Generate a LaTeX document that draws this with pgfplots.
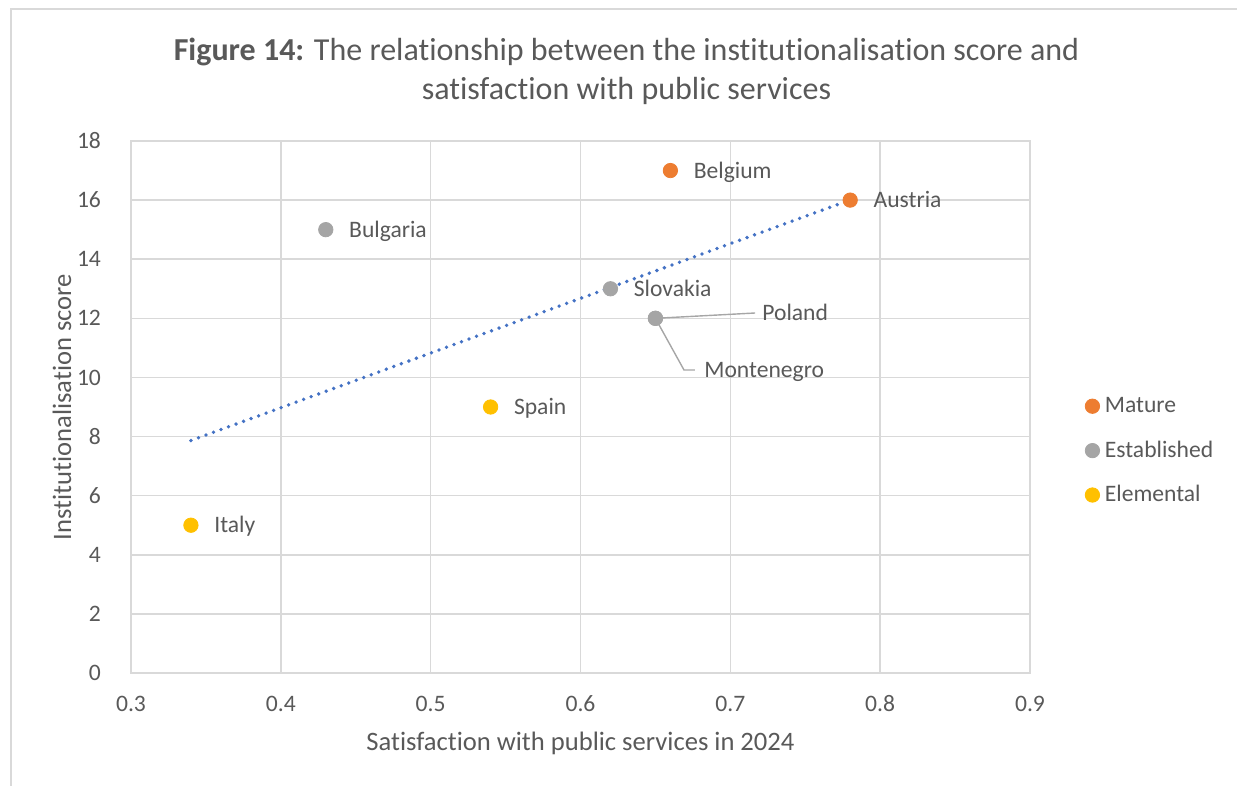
\documentclass[border=0pt]{standalone}
\usepackage{pgfplots}
\pgfplotsset{compat=1.18}
\usepackage{pgfplotstable}
\usepackage{fontspec}
\setmainfont{Carlito}[Ligatures=NoCommon]

\definecolor{txtgray}{HTML}{595959}
\definecolor{gridgray}{HTML}{D9D9D9}
\definecolor{leadgray}{HTML}{A6A6A6}
\definecolor{mature}{HTML}{ED7D31}
\definecolor{established}{HTML}{A5A5A5}
\definecolor{elemental}{HTML}{FFC000}
\definecolor{trend}{HTML}{4472C4}

% Satisfaction with public services (x) and institutionalisation score (y)
\pgfplotstableread{
x    y  label
0.66 17 Belgium
0.78 16 Austria
}\maturedata
\pgfplotstableread{
x    y  label
0.43 15 Bulgaria
0.62 13 Slovakia
}\establisheddata
\pgfplotstableread{
x    y
0.65 12
0.65 12
}\polmontdata
\pgfplotstableread{
x    y label
0.54 9 Spain
0.34 5 Italy
}\elementaldata

\begin{document}
\begin{tikzpicture}
\useasboundingbox (0,0) rectangle (618.5pt,393pt);
% chart area frame
\draw[gridgray, line width=0.8pt] (5.5pt,0) -- (5.5pt,388.5pt) -- (620pt,388.5pt);

% title
\node[anchor=base, font=\fontsize{16}{19.5}\selectfont, text=txtgray, inner sep=0pt]
  at (313.25pt,362.5pt) {\textbf{Figure 14:} The relationship between the institutionalisation score and};
\node[anchor=base, font=\fontsize{16}{19.5}\selectfont, text=txtgray, inner sep=0pt]
  at (313.25pt,343pt) {satisfaction with public services};

\begin{axis}[
  at={(65.5pt,56.5pt)}, anchor=south west,
  width=449.5pt, height=266pt, scale only axis,
  xmin=0.3, xmax=0.9, ymin=0, ymax=18,
  xtick={0.3,0.4,...,0.9}, ytick={0,2,...,18},
  xticklabels={0.3,0.4,0.5,0.6,0.7,0.8,0.9},
  major tick length=0pt,
  grid=major,
  grid style={gridgray, line width=0.8pt},
  axis line style={gridgray, line width=0.8pt},
  /pgf/number format/assume math mode=true,
  tick label style={font=\fontsize{11.8}{14}\selectfont, text=txtgray},
  xticklabel style={anchor=center, yshift=-15.5pt},
  yticklabel style={anchor=east, xshift=-11.5pt},
  xlabel={Satisfaction with public services in 2024},
  ylabel={Institutionalisation score},
  label style={font=\fontsize{13.3}{16}\selectfont, text=txtgray},
  xlabel style={at={(axis description cs:0.5,0)}, anchor=center, yshift=-35pt},
  ylabel style={at={(axis description cs:0,0.5)}, anchor=center, rotate=0, yshift=34.5pt},
  every axis plot/.append style={mark size=3.6pt},
  every node near coord/.append style={anchor=west, font=\fontsize{11.8}{14}\selectfont, text=txtgray,
      inner sep=0pt, xshift=11.5pt, text height=9.9pt, text depth=2.4pt},
  legend style={draw=none, fill=none, at={(axis description cs:1.061,0.418)}, anchor=west,
      inner sep=0pt, font=\fontsize{11.8}{14}\selectfont, text=txtgray,
      row sep=10.9pt,
      nodes={inner sep=0pt, text height=8.9pt, text depth=2.4pt},
      /tikz/every odd column/.append style={column sep=2.6pt}},
  legend cell align=left,
  legend image code/.code={\draw[#1] plot coordinates {(3.6pt,0pt)};},
]
% leader lines for Poland and Montenegro
\draw[leadgray, line width=0.7pt] (axis cs:0.65,12) -- (axis cs:0.7165,12.18);
\draw[leadgray, line width=0.7pt] (axis cs:0.65,12) -- (axis cs:0.6691,10.25) -- (axis cs:0.6764,10.25);

\addplot[only marks, mark=*, draw=mature, fill=mature,
  nodes near coords, point meta=explicit symbolic]
  table[x=x, y=y, meta=label] {\maturedata};
\addlegendentry{Mature}
\addplot[only marks, mark=*, draw=established, fill=established,
  nodes near coords, point meta=explicit symbolic]
  table[x=x, y=y, meta=label] {\establisheddata};
\addlegendentry{Established}
\addplot[only marks, mark=*, draw=elemental, fill=elemental,
  nodes near coords, point meta=explicit symbolic]
  table[x=x, y=y, meta=label] {\elementaldata};
\addlegendentry{Elemental}
\addplot[only marks, mark=*, draw=established, fill=established, forget plot]
  table[x=x, y=y] {\polmontdata};

\node[anchor=west, inner sep=0pt, font=\fontsize{11.8}{14}\selectfont, text=txtgray,
  text height=9.9pt, text depth=2.4pt] at (axis cs:0.7211,12.18) {Poland};
\node[anchor=west, inner sep=0pt, font=\fontsize{11.8}{14}\selectfont, text=txtgray,
  text height=9.9pt, text depth=2.4pt] at (axis cs:0.6824,10.235) {Montenegro};

% linear trend line
\addplot[trend, line width=1.9pt, line cap=round, dash pattern=on 0pt off 4pt, forget plot]
  coordinates {(0.34,7.865) (0.78,16.006)};
\end{axis}
\end{tikzpicture}
\end{document}
